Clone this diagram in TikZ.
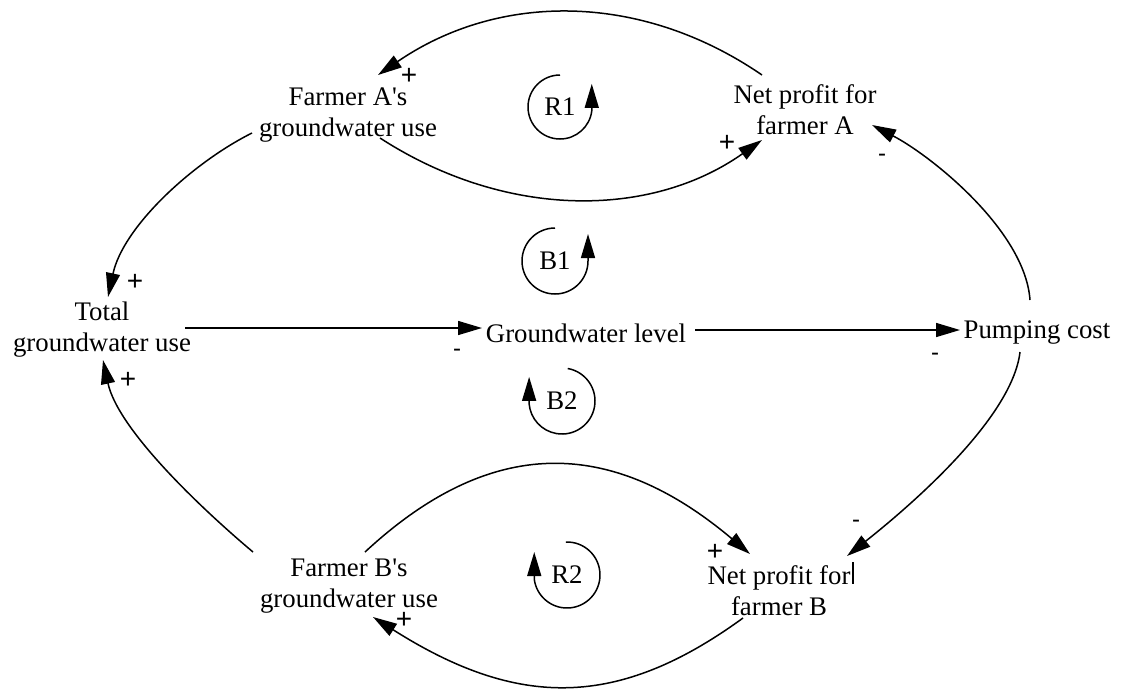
\documentclass[tikz,border=0pt]{standalone}
\usepackage{fontspec}
\setmainfont{Liberation Serif}[Ligatures=TeXOff]
\newfontfamily\signfont{Liberation Sans}[Ligatures=TeXOff]
\usetikzlibrary{arrows.meta}
\begin{document}
\begin{tikzpicture}[x=1pt,y=-1pt,
  txt/.style={align=center,inner sep=0pt,font=\fontsize{26.8}{31}\selectfont},
  sgn/.style={inner sep=0pt,font=\signfont\fontsize{24}{24}\selectfont},
  psgn/.style={inner sep=0pt,font=\signfont\fontsize{28}{28}\selectfont},
  conn/.style={line width=1.5pt,-{Triangle[length=24pt,width=14pt]}},
  loopconn/.style={line width=1.5pt,-{Triangle[length=24pt,width=14pt]}},
  looplbl/.style={inner sep=0pt,font=\fontsize{26.8}{31}\selectfont}]
\useasboundingbox (0,0) rectangle (1124,689);
% variables
\node[txt] (fA) at (348,115) {Farmer A's\\groundwater use};
\node[txt] (nA) at (805,110) {Net profit for\\farmer A};
\node[txt] (tot) at (102,330) {Total\\groundwater use};
\node[txt] (gl) at (586,333) {Groundwater level};
\node[txt] (pc) at (1037,333) {Pumping cost};
\node[txt] (fB) at (349,586) {Farmer B's\\groundwater use};
\node[txt] (nB) at (779,591) {Net profit for\\farmer B};
% text cursor mark
\coordinate (cur) at (853,562);
\draw[line width=2.5pt] (cur) -- ++(0,22);
% connectors
\draw[conn] ([shift={(-43,-35)}]nA.center) .. controls (641,-8) and (499,-8) .. ([shift={(30,-40)}]fA.center);
\draw[conn] ([shift={(32,23)}]fA.center) .. controls (505,219) and (650,219) .. ([shift={(-43,30)}]nA.center);
\draw[conn] ([shift={(-96,18)}]fA.center) .. controls (192,163) and (123,227) .. ([shift={(6,-33)}]tot.center);
\draw[conn] ([shift={(83,-2)}]tot.center) -- ([shift={(-104,-5)}]gl.center);
\draw[conn] ([shift={(109,-3)}]gl.center) -- ([shift={(-77,-3)}]pc.center);
\draw[conn] ([shift={(-7,-33)}]pc.center) .. controls (1025,230) and (930,155) .. ([shift={(67,15)}]nA.center);
\draw[conn] ([shift={(-17,19)}]pc.center) .. controls (1012,420) and (905,510) .. ([shift={(68,-35)}]nB.center);
\draw[conn] ([shift={(16,-34)}]fB.center) .. controls (490,436) and (610,436) .. ([shift={(-29,-37)}]nB.center);
\draw[conn] ([shift={(-36,27)}]nB.center) .. controls (618,709) and (518,709) .. ([shift={(24,31)}]fB.center);
\draw[conn] ([shift={(-96,-34)}]fB.center) .. controls (203,510) and (118,430) .. ([shift={(1,30)}]tot.center);
% polarities
\node[psgn] (s1) at (409,76) {+};
\node[psgn] (s2) at (727,143) {+};
\node[sgn] (s3) at (882,158) {-};
\node[psgn] (s4) at (135,282) {+};
\node[psgn] (s5) at (128,380) {+};
\node[sgn] (s6) at (457,353) {-};
\node[sgn] (s7) at (935,357) {-};
\node[sgn] (s8) at (856,524) {-};
\node[psgn] (s9) at (715,552) {+};
\node[psgn] (s10) at (404,620) {+};
% loop markers
\node[looplbl] (r1) at (560,107) {R1};
\node[looplbl] (b1) at (555,261) {B1};
\node[looplbl] (b2) at (562,401) {B2};
\node[looplbl] (r2) at (567,575) {R2};
\draw[loopconn] ([shift={(-90:32)}]r1.center) arc[start angle=-90,end angle=-353,radius=32] -- ++(0,-27);
\draw[loopconn] ([shift={(-90:33)}]b1.center) arc[start angle=-90,end angle=-360,radius=33] -- ++(0,-27);
\draw[loopconn] ([shift={(-80:33)}]b2.center) arc[start angle=-80,end angle=175,radius=33] -- ++(0,-27);
\draw[loopconn] ([shift={(-92:33)}]r2.center) arc[start angle=-92,end angle=173,radius=33] -- ++(0,-27);
\end{tikzpicture}
\end{document}
